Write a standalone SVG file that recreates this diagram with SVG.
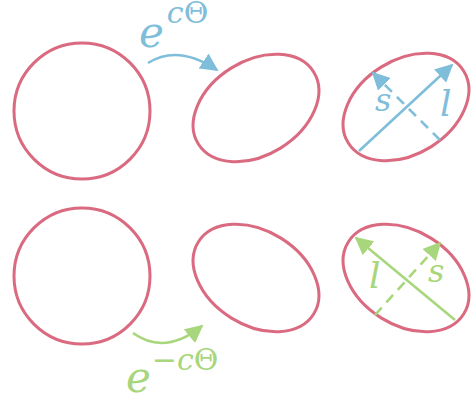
<svg xmlns="http://www.w3.org/2000/svg" width="475" height="403" viewBox="0 0 475 403">
<defs>
<style>
.shape{fill:none;stroke:#da6a80;stroke-width:3}
.b{stroke:#7fbedb;stroke-width:2.6;fill:none}
.g{stroke:#a8d67c;stroke-width:2.6;fill:none}
.dash{stroke-dasharray:10 7}
.tb{fill:#7fbedb;font-family:"DejaVu Serif","Liberation Serif",serif}
.tg{fill:#a8d67c;font-family:"DejaVu Serif","Liberation Serif",serif}
.it{font-style:italic}
</style>
<marker id="ab" viewBox="0 0 10 10" refX="9" refY="5" markerWidth="18" markerHeight="18" markerUnits="userSpaceOnUse" orient="auto"><path d="M0,0 L10,5 L0,10 Z" fill="#7fbedb"/></marker>
<marker id="ag" viewBox="0 0 10 10" refX="9" refY="5" markerWidth="18" markerHeight="18" markerUnits="userSpaceOnUse" orient="auto"><path d="M0,0 L10,5 L0,10 Z" fill="#a8d67c"/></marker>
</defs>
<g id="circle-top"><circle class="shape" cx="82" cy="111" r="68"/></g>
<g id="ellipse-top-mid"><ellipse class="shape" cx="256" cy="108" rx="68" ry="47" transform="rotate(-32 256 108)"/></g>
<g id="ellipse-top-right"><ellipse class="shape" cx="406" cy="107" rx="68" ry="47" transform="rotate(-32 406 107)"/></g>
<g id="circle-bottom"><circle class="shape" cx="82" cy="276" r="68"/></g>
<g id="ellipse-bot-mid"><ellipse class="shape" cx="256" cy="278" rx="68" ry="47" transform="rotate(32 256 278)"/></g>
<g id="ellipse-bot-right"><ellipse class="shape" cx="406" cy="278" rx="68" ry="47" transform="rotate(32 406 278)"/></g>
<g id="connectors">
<path class="b" d="M148,63 Q178,44 217,70" marker-end="url(#ab)"/>
<path class="g" d="M133,333 Q165,356 202,326" marker-end="url(#ag)"/>
<line class="b" x1="359" y1="151" x2="452" y2="65" marker-end="url(#ab)"/>
<line class="b dash" x1="440" y1="140" x2="373" y2="73" marker-end="url(#ab)"/>
<line class="g" x1="455" y1="320" x2="356" y2="238" marker-end="url(#ag)"/>
<line class="g dash" x1="375" y1="315" x2="440" y2="243" marker-end="url(#ag)"/>
</g>
<g id="labels">
<text class="tb" x="139" y="47" font-size="42"><tspan class="it">e</tspan><tspan class="it" font-size="30" dx="3" dy="-24">c</tspan><tspan font-size="30">Θ</tspan></text>
<text class="tg" x="126" y="392" font-size="42"><tspan class="it">e</tspan><tspan font-size="30" dx="1" dy="-22">−</tspan><tspan class="it" font-size="30">c</tspan><tspan font-size="30">Θ</tspan></text>
<text class="tb it" x="375" y="111" font-size="32">s</text>
<text class="tb it" x="440" y="116" font-size="36">l</text>
<text class="tg it" x="369" y="288" font-size="36">l</text>
<text class="tg it" x="428" y="282" font-size="32">s</text>
</g>
</svg>
